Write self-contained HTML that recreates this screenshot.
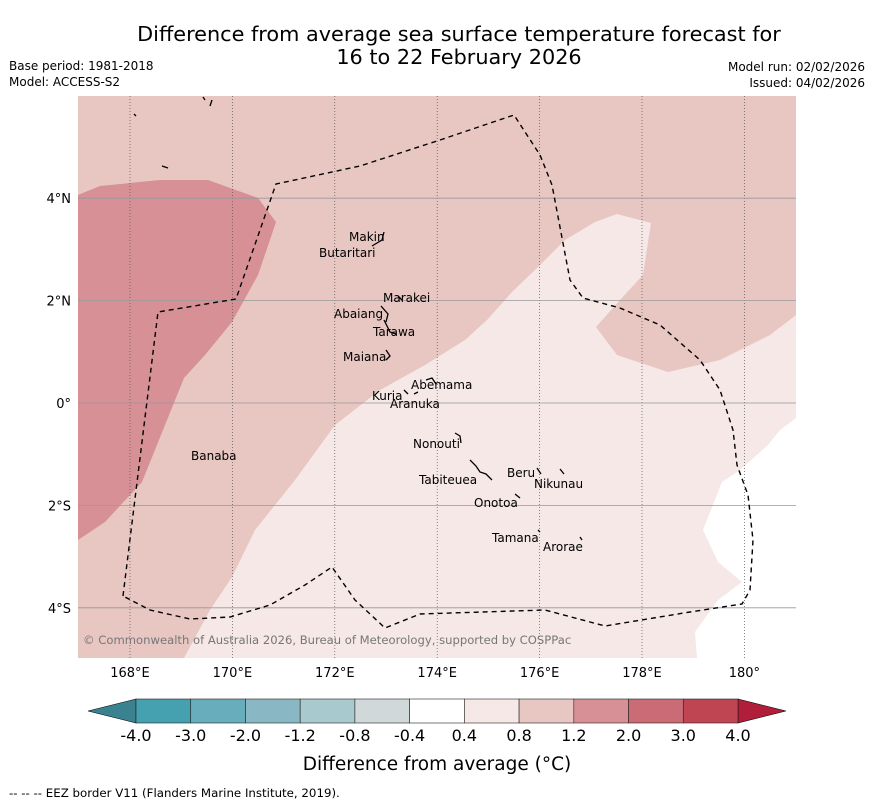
<!DOCTYPE html>
<html><head><meta charset="utf-8">
<style>
body{margin:0;background:#fff;font-family:"Liberation Sans","DejaVu Sans",sans-serif;}
#wrap{position:relative;width:873px;height:804px;overflow:hidden;}
</style></head>
<body>
<div id="wrap">
<svg id="svg" width="873" height="804" xmlns="http://www.w3.org/2000/svg" style="position:absolute;left:0;top:0" font-family="DejaVu Sans, Liberation Sans, sans-serif">
<text x="459" y="41" text-anchor="middle" font-size="20.8">Difference from average sea surface temperature forecast for</text>
<text x="459" y="64" text-anchor="middle" font-size="20.8">16 to 22 February 2026</text>
<text x="9" y="70" font-size="12">Base period: 1981-2018</text>
<text x="9" y="86" font-size="12">Model: ACCESS-S2</text>
<text x="865" y="71" font-size="12" text-anchor="end">Model run: 02/02/2026</text>
<text x="865" y="87" font-size="12" text-anchor="end">Issued: 04/02/2026</text>
<defs><clipPath id="mc"><rect x="78" y="96" width="718" height="562"/></clipPath></defs>
<g clip-path="url(#mc)">
<rect x="78" y="96" width="718" height="562" fill="#e8c6c2"/>
<polygon fill="#f5e8e6" points="184,658 210,610 232,577 255,530 295,480 335,425 380,390 425,365 465,340 487,320 512,292 540,265 565,240 595,222 617,214 651,223 643,275 620,300 596,327 617,355 668,372 720,360 770,335 796,315 796,658"/>
<polygon fill="#ffffff" points="796,418 780,430 768,445 740,470 722,482 703,530 718,562 742,582 718,600 695,632 697,658 796,658"/>
<polygon fill="#d69096" points="78,195 100,186 160,180 208,180 258,198 276,222 258,275 232,322 205,355 184,378 165,425 142,482 105,522 78,540"/>
<g id="grid"></g>
<polyline fill="none" stroke="#000" stroke-width="1.4" stroke-dasharray="5,4" points="123,596 158,312 236,299 276,184 360,166 440,140 514,115 540,155 552,185 570,280 583,298 620,308 660,325 700,360 720,390 733,430 737,465 748,495 753,540 750,590 742,604 690,612 605,626 545,610 420,614 385,628 355,600 332,567 305,585 270,605 230,617 190,619 150,610 123,596"/>
<g stroke="#000" stroke-width="1.3" fill="none">
<path d="M372,246 L382,240 L384,232"/><path d="M381,306 L388,314 L386,322"/><path d="M384,320 L390,332 L396,334"/><path d="M386,350 L390,356 L386,360"/><path d="M398,296 L402,300"/><path d="M426,380 L432,378 L436,384"/><path d="M404,390 L408,394"/><path d="M414,394 L418,392"/><path d="M455,433 L460,436 L461,443"/><path d="M470,460 L476,466 L480,472 L486,474 L492,480"/><path d="M537,468 L541,474"/><path d="M560,469 L564,474"/><path d="M515,494 L520,498"/><path d="M538,530 L540,532"/><path d="M580,537 L582,540"/><path d="M134,114 L136,116"/><path d="M162,166 L168,168"/><path d="M203,97 L205,100 M212,100 L210,106"/>
</g>
<g font-size="12" fill="#000">
<text x="349" y="241">Makin</text><text x="319" y="257">Butaritari</text><text x="383" y="302">Marakei</text><text x="334" y="318">Abaiang</text><text x="373" y="336">Tarawa</text><text x="343" y="361">Maiana</text><text x="411" y="389">Abemama</text><text x="372" y="400">Kuria</text><text x="390" y="408">Aranuka</text><text x="413" y="448">Nonouti</text><text x="191" y="460">Banaba</text><text x="507" y="477">Beru</text><text x="419" y="484">Tabiteuea</text><text x="534" y="488">Nikunau</text><text x="474" y="507">Onotoa</text><text x="492" y="542">Tamana</text><text x="543" y="551">Arorae</text>
</g>
<text x="83" y="644" font-size="11.6" fill="#777">© Commonwealth of Australia 2026, Bureau of Meteorology, supported by COSPPac</text>
</g>
<g id="axes"></g>
<g id="cbar"></g>
<text x="437" y="770" text-anchor="middle" font-size="18.5">Difference from average (°C)</text>
<text x="9" y="797" font-size="11.8">--  --  -- EEZ border V11 (Flanders Marine Institute, 2019).</text>
</svg>
</div>
<script>
const lonTicks=[168,170,172,174,176,178,180];
const latTicks=[4,2,0,-2,-4];
const cbLabels=["-4.0","-3.0","-2.0","-1.2","-0.8","-0.4","0.4","0.8","1.2","2.0","3.0","4.0"];
const cbColors=["#45a0b0","#67adbb","#89b8c4","#a8c9cd","#d0d8d9","#ffffff","#f5e8e6","#e8c6c2","#d69096","#cb6b75","#bf4553"];
const NS="http://www.w3.org/2000/svg";
function xLon(l){return 130+(l-168)*51.2;}
function yLat(l){return 403-l*51.2;}
function mk(t,a,p){const e=document.createElementNS(NS,t);for(const k in a)e.setAttribute(k,a[k]);p.appendChild(e);return e;}
const grid=document.getElementById('grid'),axes=document.getElementById('axes'),cb=document.getElementById('cbar');
lonTicks.forEach(l=>{const x=xLon(l);
const g=mk('line',{x1:x,x2:x,y1:96,y2:658,stroke:'#555','stroke-width':0.7,'stroke-dasharray':'1,2'},grid);


const t=mk('text',{x:x,y:677,'text-anchor':'middle','font-size':13},axes);t.textContent=(l===180?'180°':l+'°E');

});
latTicks.forEach(l=>{const y=yLat(l);
const g=mk('line',{x1:78,x2:796,y1:y,y2:y,stroke:'#999','stroke-width':0.8},grid);


const t=mk('text',{x:71,y:y+5,'text-anchor':'end','font-size':13},axes);t.textContent=(l===0?'0°':Math.abs(l)+'°'+(l>0?'N':'S'));

});
const x0=136,x1=738,w=(x1-x0)/cbColors.length,y0=699,y1=723;
const lt=mk('polygon',{points:`${x0},${y0} 88,711 ${x0},${y1}`,fill:'#3b8290',stroke:'#000','stroke-width':0.6},cb);


const rt=mk('polygon',{points:`${x1},${y0} 786,711 ${x1},${y1}`,fill:'#b01e3a',stroke:'#000','stroke-width':0.6},cb);


cbColors.forEach((c,i)=>{const r=mk('rect',{x:x0+i*w,y:y0,width:w,height:y1-y0,fill:c,stroke:'#222','stroke-width':0.6},cb);

});
cbLabels.forEach((s,i)=>{const t=mk('text',{x:x0+i*w,y:741,'text-anchor':'middle','font-size':16},cb);t.textContent=s;

});
</script>
</body></html>
